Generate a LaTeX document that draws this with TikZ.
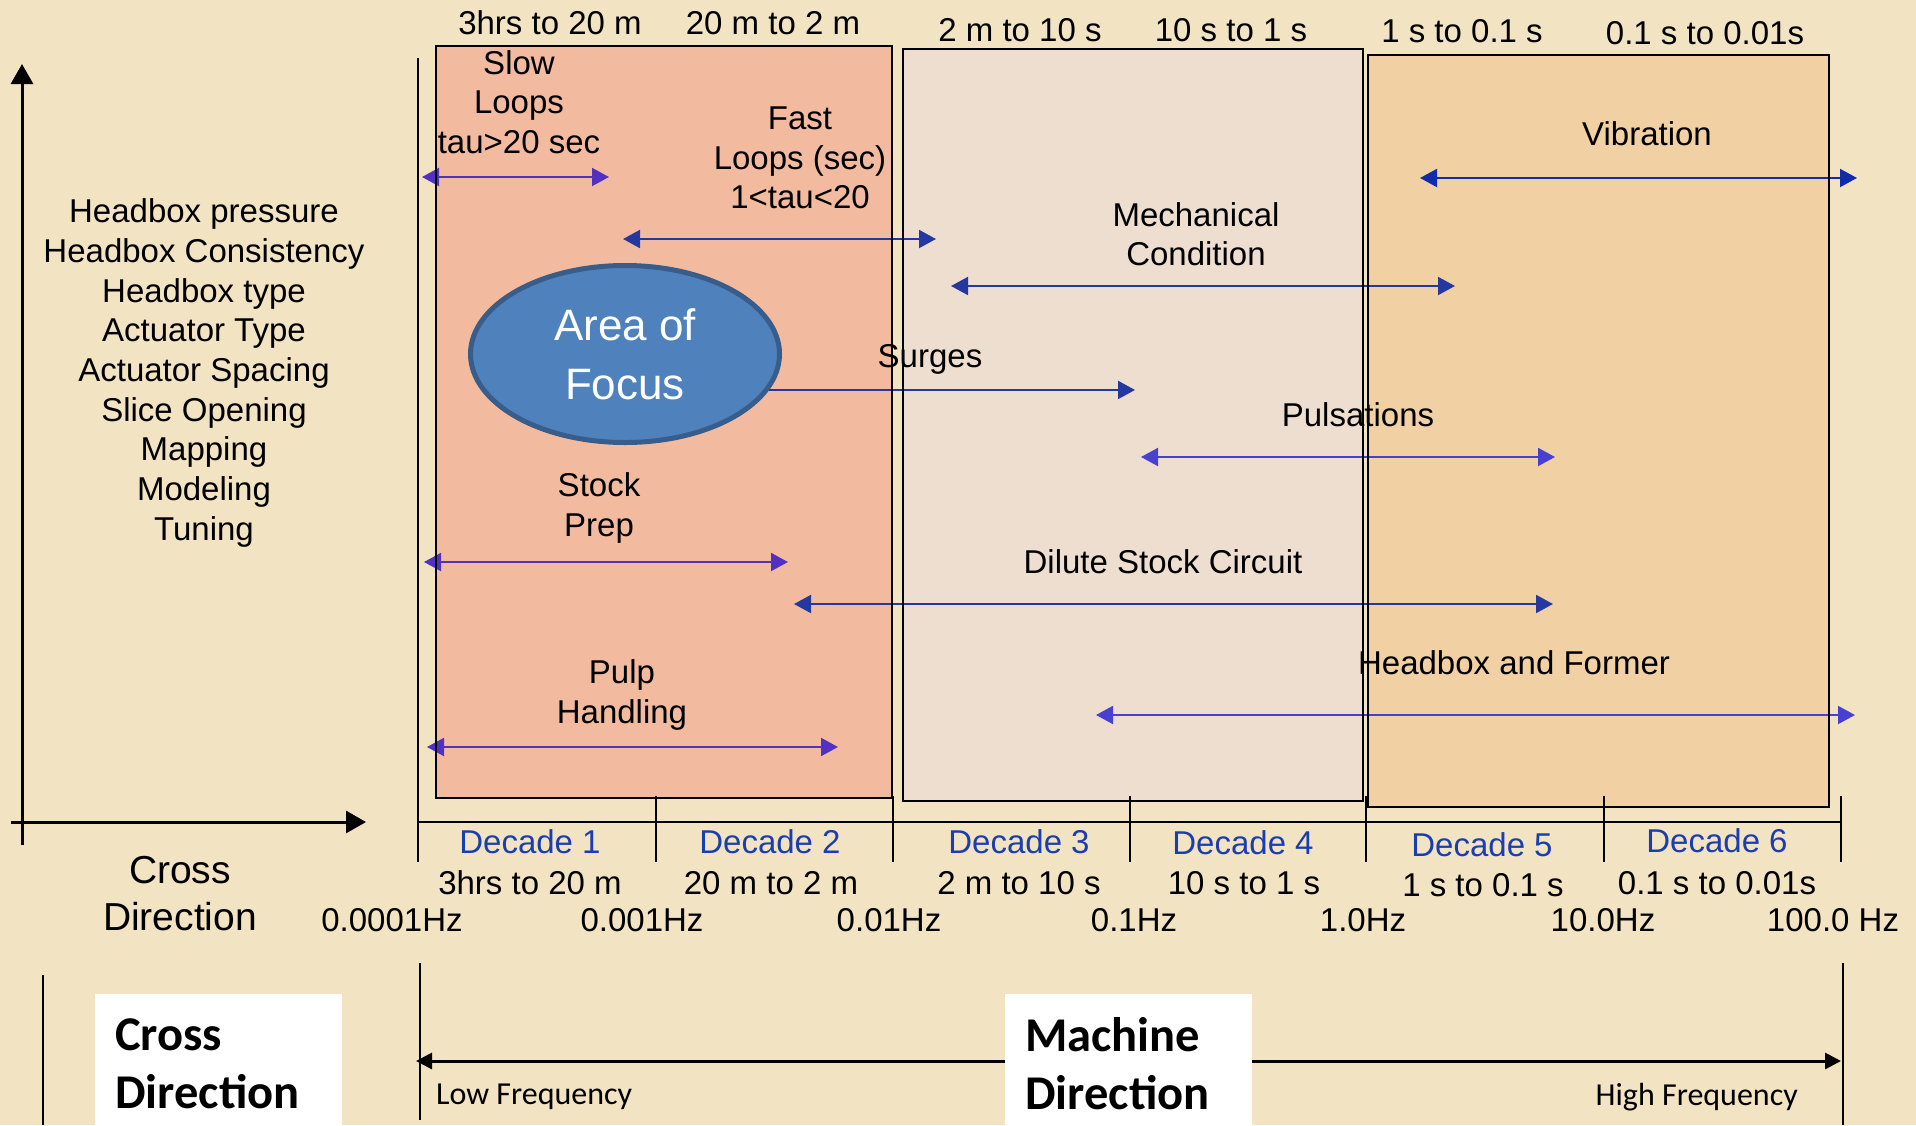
\documentclass[tikz,border=0pt]{standalone}
\usepackage{fontspec}
\setmainfont{Liberation Sans}
\newfontfamily\calib{Carlito}
\usetikzlibrary{arrows.meta,shapes.geometric}
\definecolor{bg}{RGB}{242,227,194}
\definecolor{boxA}{RGB}{242,187,160}
\definecolor{boxB}{RGB}{237,222,207}
\definecolor{boxC}{RGB}{241,209,164}
\definecolor{focusfill}{RGB}{79,129,189}
\definecolor{focusdraw}{RGB}{56,93,138}
\definecolor{decblue}{RGB}{26,62,176}
\definecolor{purp}{RGB}{82,48,192}
\definecolor{purpb}{RGB}{72,64,208}
\definecolor{navy}{RGB}{36,56,160}
\definecolor{royal}{RGB}{16,44,170}
\begin{document}
\begin{tikzpicture}[x=1pt,y=-1pt,
  txt/.style={font=\fontsize{33}{39.5}\selectfont, inner sep=0pt, align=center, text=black},
  dec/.style={txt, text=decblue},
  arr/.style={line width=2pt, {Triangle[length=17pt,width=18pt]}-{Triangle[length=17pt,width=18pt]}},
  onearr/.style={line width=2pt, -{Triangle[length=17pt,width=18pt]}},
  frame/.style={draw=black, line width=2.5pt},
  axisline/.style={line width=3pt},
  tickline/.style={line width=2pt},
  whitebox/.style={fill=white, inner sep=0pt, inner xsep=20pt, minimum width=247pt, minimum height=139pt, text width=207pt, align=left, anchor=north west, font=\calib\bfseries\fontsize{48.5}{58}\selectfont},
  freq/.style={inner sep=0pt, font=\calib\fontsize{32}{38}\selectfont}
]
\useasboundingbox (0,0) rectangle (1916,1125);
\fill[bg] (0,0) rectangle (1916,1125);

% decade boxes (fills)
\fill[boxA] (436,46) rectangle (892,798);
\fill[boxB] (903,49) rectangle (1363,801);
\fill[boxC] (1368,55) rectangle (1829,807);

% area of focus
\node[ellipse, fill=focusfill, draw=focusdraw, line width=5pt, minimum width=309pt, minimum height=177pt, inner sep=0pt, align=center, text=white, font=\fontsize{44}{59}\selectfont] (focus) at (625,354) {Area of\\Focus};

% axes of the cross direction
\coordinate (yBot) at (22,845);
\coordinate (yTop) at (22,64);
\coordinate (xL) at (11,822);
\coordinate (xR) at (366,822);
\draw[axisline, -{Triangle[length=20pt,width=22pt]}] (yBot) -- (yTop);
\draw[axisline, -{Triangle[length=20pt,width=22pt]}] (xL) -- (xR);

% decade axis
\coordinate (d0) at (418,822);
\coordinate (d6) at (1841,822);
\draw[tickline] (d0) -- (d6);
\draw[tickline] (418,58) -- (418,862);
\foreach \x in {656,893,1130,1366,1604,1841} \draw[tickline] (\x,796) -- (\x,862);

% coordinates of the ranges
\coordinate (slowL) at (422,177);  \coordinate (slowR) at (609,177);
\coordinate (fastL) at (623,239);  \coordinate (fastR) at (936,239);
\coordinate (mechL) at (951,286);  \coordinate (mechR) at (1455,286);
\coordinate (vibL) at (1420,178);  \coordinate (vibR) at (1857,178);
\coordinate (surgeE) at (1135,390);
\coordinate (pulsL) at (1141,457); \coordinate (pulsR) at (1555,457);
\coordinate (stockL) at (424,562); \coordinate (stockR) at (788,562);
\coordinate (dilL) at (794,604);   \coordinate (dilR) at (1553,604);
\coordinate (hbL) at (1096,715);   \coordinate (hbR) at (1855,715);
\coordinate (pulpL) at (427,747);  \coordinate (pulpR) at (838,747);

\draw[arr, purp] (slowL) -- (slowR);
\draw[arr, navy] (fastL) -- (fastR);
\draw[arr, navy] (mechL) -- (mechR);
\draw[arr, royal] (vibL) -- (vibR);
\draw[onearr, navy] (focus.-14.3) -- (focus.-14.3 -| surgeE);
\draw[arr, purpb] (pulsL) -- (pulsR);
\draw[arr, purp] (stockL) -- (stockR);
\draw[arr, navy] (dilL) -- (dilR);
\draw[arr, purpb] (hbL) -- (hbR);
\draw[arr, purp] (pulpL) -- (pulpR);

% labels in the chart
\node[txt] (slow) at (519,102) {Slow\\Loops\\tau>20 sec};
\node[txt] (fast) at (800,158) {Fast\\Loops (sec)\\1<tau<20};
\node[txt] (mech) at (1196,234) {Mechanical\\Condition};
\node[txt] (vib) at (1647,134) {Vibration};
\node[txt] (surges) at (930,359) {Surges};
\node[txt] (puls) at (1358,415) {Pulsations};
\node[txt] (stock) at (599,508) {Stock\\Prep};
\node[txt] (dilute) at (1163,562) {Dilute Stock Circuit};
\node[txt] (hbf) at (1514,663) {Headbox and Former};
\node[txt] (pulp) at (622,695) {Pulp\\Handling};

% box frames on top
\draw[frame] (436,46) rectangle (892,798);
\draw[frame] (903,49) rectangle (1363,801);
\draw[frame] (1368,55) rectangle (1829,807);

% left list
\node[txt, font=\fontsize{33}{39.7}\selectfont] (list) at (204,373) {Headbox pressure\\Headbox Consistency\\Headbox type\\Actuator Type\\Actuator Spacing\\Slice Opening\\Mapping\\Modeling\\Tuning};
\node[txt, font=\fontsize{39}{47}\selectfont] (cdir) at (180,894) {Cross\\Direction};

% top time ranges
\node[txt] (t1) at (550,23) {3hrs to 20 m};
\node[txt] (t2) at (773,23) {20 m to 2 m};
\node[txt] (t3) at (1020,30) {2 m to 10 s};
\node[txt] (t4) at (1231,30) {10 s to 1 s};
\node[txt] (t5) at (1462,31) {1 s to 0.1 s};
\node[txt] (t6) at (1705,33) {0.1 s to 0.01s};

% decades
\node[dec] (D1) at (530,842) {Decade 1};
\node[dec] (D2) at (770,842) {Decade 2};
\node[dec] (D3) at (1019,842) {Decade 3};
\node[dec] (D4) at (1243,843) {Decade 4};
\node[dec] (D5) at (1482,845) {Decade 5};
\node[dec] (D6) at (1717,841) {Decade 6};

% bottom time ranges
\node[txt] (b1) at (530,883) {3hrs to 20 m};
\node[txt] (b2) at (771,883) {20 m to 2 m};
\node[txt] (b3) at (1019,883) {2 m to 10 s};
\node[txt] (b4) at (1244,883) {10 s to 1 s};
\node[txt] (b5) at (1483,885) {1 s to 0.1 s};
\node[txt] (b6) at (1717,883) {0.1 s to 0.01s};

% frequencies
\node[txt] (h1) at (392,920) {0.0001Hz};
\node[txt] (h2) at (642,920) {0.001Hz};
\node[txt] (h3) at (889,920) {0.01Hz};
\node[txt] (h4) at (1134,920) {0.1Hz};
\node[txt] (h5) at (1363,920) {1.0Hz};
\node[txt] (h6) at (1603,920) {10.0Hz};
\node[txt] (h7) at (1833,920) {100.0 Hz};

% bottom legend
\coordinate (v1a) at (43,975);   \coordinate (v1b) at (43,1125);
\coordinate (v2a) at (420,963);  \coordinate (v2b) at (420,1120);
\coordinate (v3a) at (1843,963); \coordinate (v3b) at (1843,1125);
\draw[tickline] (v1a) -- (v1b);
\draw[tickline] (v2a) -- (v2b);
\draw[tickline] (v3a) -- (v3b);
\coordinate (lowEnd) at (416,1061);
\coordinate (highEnd) at (1841,1061);
\draw[line width=3pt, {Triangle[length=16pt,width=16pt]}-{Triangle[length=16pt,width=16pt]}] (lowEnd) -- (highEnd);
\node[whitebox] (cdbox) at (95,994) {Cross\\Direction};
\node[whitebox] (mdbox) at (1005,994) {Machine\\Direction};
\node[freq, anchor=west] (low) at (436,1097) {Low Frequency};
\node[freq, anchor=east] (high) at (1798,1097) {High Frequency};
\end{tikzpicture}
\end{document}
